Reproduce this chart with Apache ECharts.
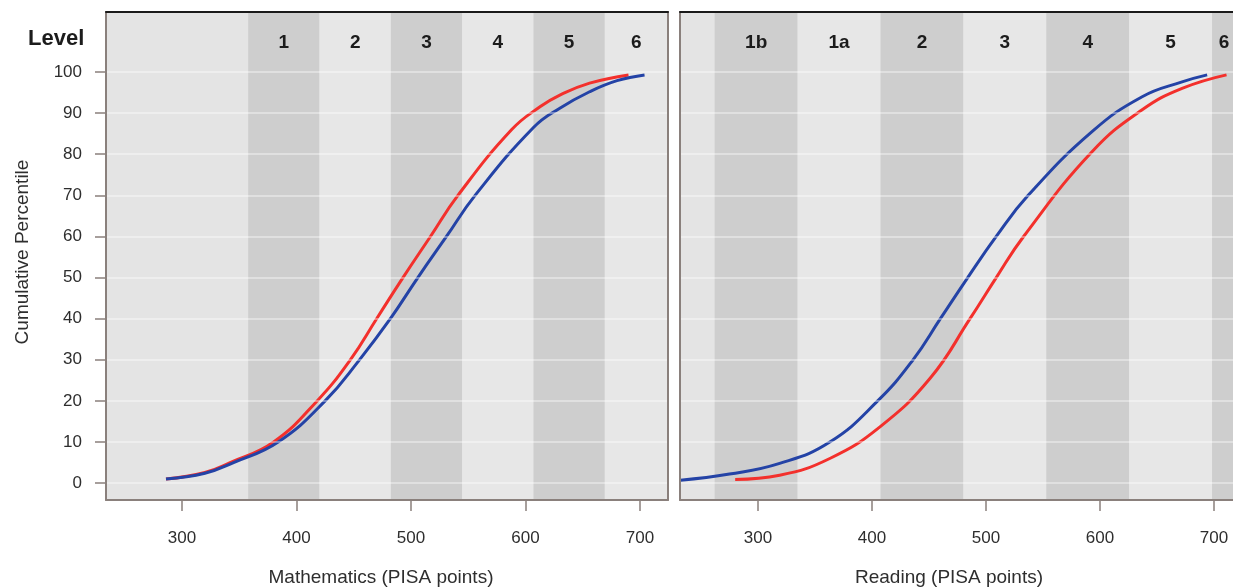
<!DOCTYPE html>
<html>
<head>
<meta charset="utf-8">
<script src="https://cdn.jsdelivr.net/npm/echarts@6/dist/echarts.min.js"></script>
<style>
html, body { margin: 0; padding: 0; background: #fff; }
#chart { width: 1233px; height: 588px; }
</style>
</head>
<body>
<div id="chart"></div>
<script>
// tick labels
var yTicks = [0, 10, 20, 30, 40, 50, 60, 70, 80, 90, 100];
var xTicks = [300, 400, 500, 600, 700];

// proficiency levels: name + lower cut (PISA points)
var mathLevels = ['1', '2', '3', '4', '5', '6'];
var mathCuts = [357.8, 420.1, 482.4, 544.7, 607.0, 669.3];
var readLevels = ['1b', '1a', '2', '3', '4', '5', '6'];
var readCuts = [262.0, 334.8, 407.5, 480.2, 552.9, 625.6, 698.3];

// cumulative percentile curves [score, percentile]
var mathRed = [[286,1],[320,2.6],[342,5],[380,10],[418,20],[447,30],[470,40],[493,50],[517,60],[541,70],[588,86],[613,91.6],[630,94.4],[656,97.3],[690,99.3]];
var mathBlue = [[286,1],[320,2.4],[345,5],[384,10],[425,20],[455,30],[482,40],[506,50],[531,60],[556,70],[607,86.5],[630,91.2],[656,95.2],[680,97.9],[704,99.3]];
var readRed = [[280,0.9],[319,1.9],[363,6],[407,13.7],[451,25.5],[486,40],[509,50],[533,60],[593,80.6],[637,90.8],[672,96],[711,99.3]];
var readBlue = [[232,0.7],[275,2.2],[319,4.8],[363,10],[405,20],[436,30],[460,40],[484,50],[509,60],[537,70],[593,85.5],[637,94],[672,97.6],[694,99.3]];

var FONT = '"Liberation Sans", Arial, Helvetica, sans-serif';
var RED = '#f3302c';
var BLUE = '#2443a6';
var FRAME = '#8a807c';
var DARK = '#cecece';
var LIGHT = '#e7e7e7';

var mathRange = [233.6, 724.5];
var readRange = [231.6, 719.3];

function bands(names, cuts, range) {
    var out = [[{ xAxis: range[0], itemStyle: { color: '#e4e4e4' } }, { xAxis: cuts[0] }]];
    for (var i = 0; i < names.length; i++) {
        var end = i < cuts.length - 1 ? cuts[i + 1] : range[1];
        out.push([{ name: names[i], xAxis: cuts[i], itemStyle: { color: i % 2 === 0 ? DARK : LIGHT } }, { xAxis: end }]);
    }
    return out;
}

function gridLines() {
    return yTicks.map(function (v) { return { yAxis: v }; });
}

function bottomAxis(grid, range, name, shift) {
    return {
        type: 'value', gridIndex: grid, min: range[0], max: range[1], z: 5,
        axisLine: { show: true, onZero: false, lineStyle: { color: FRAME, width: 2 } },
        axisTick: { show: true, length: 11, customValues: xTicks, lineStyle: { color: FRAME, width: 1.5 } },
        axisLabel: { customValues: xTicks, margin: 30, fontSize: 17, color: '#2e2e2e', fontFamily: FONT },
        splitLine: { show: false },
        name: name, nameLocation: 'middle', nameGap: 68,
        nameTextStyle: { fontSize: 19, color: '#2e2e2e', fontFamily: FONT, padding: [0, shift, 0, 0] }
    };
}

function topAxis(grid) {
    return {
        type: 'value', gridIndex: grid, position: 'top', z: 5,
        axisLine: { show: true, onZero: false, lineStyle: { color: '#1a1a1a', width: 2 } },
        axisTick: { show: false }, axisLabel: { show: false }, splitLine: { show: false }
    };
}

function sideAxis(grid, pos) {
    return {
        type: 'value', gridIndex: grid, position: pos, min: -4.1, max: 114.6, z: 5,
        axisLine: { show: true, onZero: false, lineStyle: { color: FRAME, width: 2 } },
        axisTick: { show: false }, axisLabel: { show: false }, splitLine: { show: false }
    };
}

function curve(name, x, y, data, color) {
    return {
        name: name, type: 'line', xAxisIndex: x, yAxisIndex: y, z: 3,
        smooth: 0.45, showSymbol: false, data: data,
        lineStyle: { color: color, width: 3 }
    };
}

function bandSeries(x, y, names, cuts, range) {
    return {
        type: 'line', xAxisIndex: x, yAxisIndex: y, data: [], z: 1, silent: true,
        markArea: {
            silent: true,
            label: {
                show: true, position: 'insideTop', distance: 21,
                fontSize: 19, fontWeight: 'bold', color: '#1c1c1c', fontFamily: FONT
            },
            data: bands(names, cuts, range)
        }
    };
}

function lineSeries(x, y) {
    return {
        type: 'line', xAxisIndex: x, yAxisIndex: y, data: [], z: 2, silent: true,
        markLine: {
            silent: true, symbol: 'none', label: { show: false },
            lineStyle: { color: 'rgba(255,255,255,0.5)', width: 1.5, type: 'solid' },
            data: gridLines()
        }
    };
}

var chart = echarts.init(document.getElementById('chart'));
var option = {
    backgroundColor: '#ffffff',
    animation: false,
    grid: [
        { left: 106, top: 12, width: 562, height: 488, outerBoundsMode: 'none', show: true, backgroundColor: '#e6e6e6', borderWidth: 0 },
        { left: 680, top: 12, width: 556, height: 488, outerBoundsMode: 'none', show: true, backgroundColor: '#e6e6e6', borderWidth: 0 }
    ],
    xAxis: [
        bottomAxis(0, mathRange, 'Mathematics (PISA points)', 12),
        bottomAxis(1, readRange, 'Reading (PISA points)', 18),
        topAxis(0),
        topAxis(1)
    ],
    yAxis: [
        {
            type: 'value', gridIndex: 0, min: -4.1, max: 114.6, z: 5,
            axisLine: { show: true, onZero: false, lineStyle: { color: FRAME, width: 2 } },
            axisTick: { show: true, length: 11, customValues: yTicks, lineStyle: { color: FRAME, width: 1.5 } },
            axisLabel: { customValues: yTicks, margin: 24, fontSize: 17, color: '#2e2e2e', fontFamily: FONT },
            splitLine: { show: false },
            name: 'Cumulative Percentile', nameLocation: 'middle', nameGap: 74, nameRotate: 90,
            nameTextStyle: { fontSize: 19, color: '#2e2e2e', fontFamily: FONT, padding: [0, 0, 0, 8] }
        },
        sideAxis(1, 'left'),
        sideAxis(0, 'right')
    ],
    graphic: [{
        type: 'text', left: 28, top: 28, z: 10,
        style: { text: 'Level', font: 'bold 22px ' + FONT, fill: '#1c1c1c' }
    }],
    series: [
        bandSeries(0, 0, mathLevels, mathCuts, mathRange),
        lineSeries(0, 0),
        bandSeries(1, 1, readLevels, readCuts, readRange),
        lineSeries(1, 1),
        curve('math red', 0, 0, mathRed, RED),
        curve('math blue', 0, 0, mathBlue, BLUE),
        curve('reading red', 1, 1, readRed, RED),
        curve('reading blue', 1, 1, readBlue, BLUE)
    ]
};
chart.setOption(option);
</script>
</body>
</html>
